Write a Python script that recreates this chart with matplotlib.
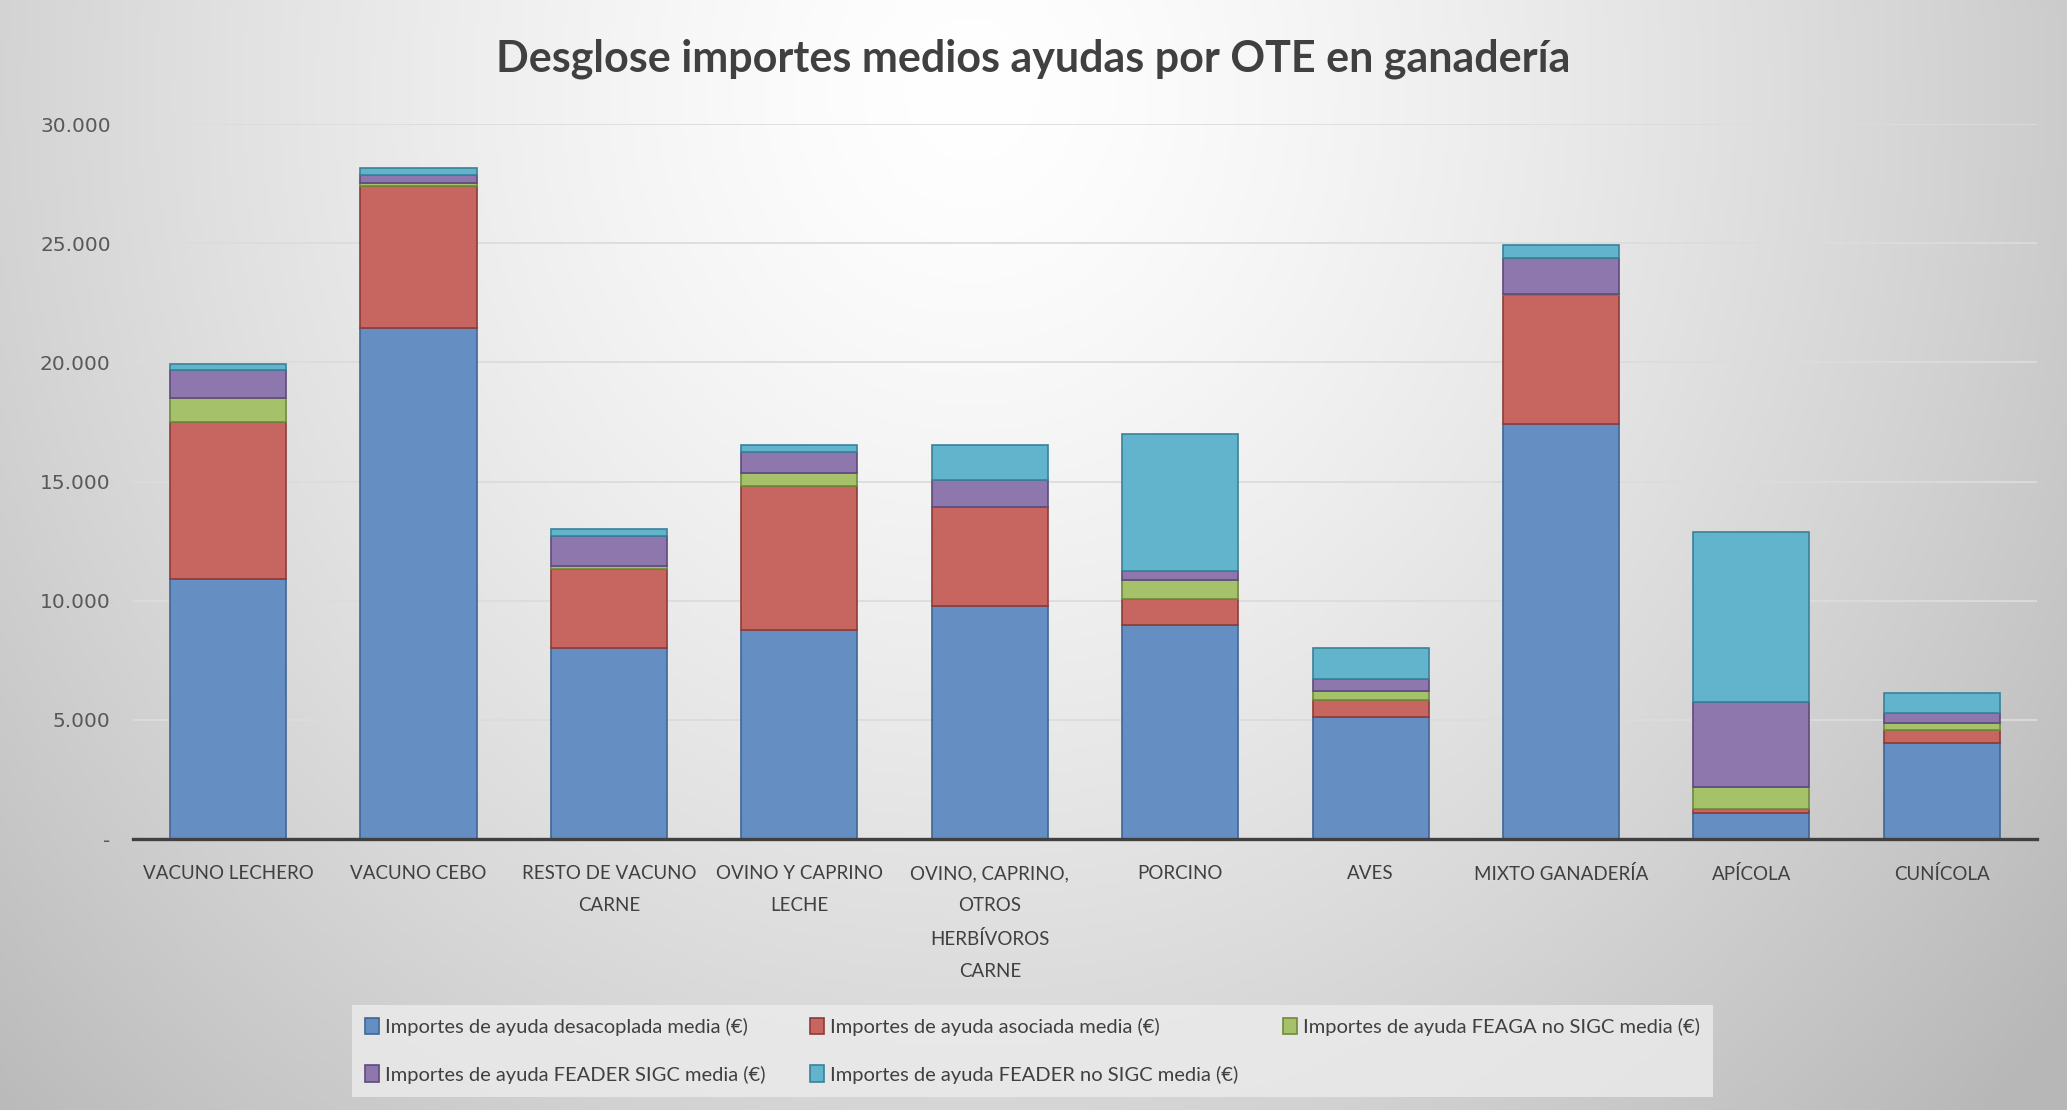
import numpy as np
import matplotlib
matplotlib.use("Agg")
import matplotlib.pyplot as plt
from matplotlib.ticker import FuncFormatter

plt.rcParams['font.family'] = ['Lato', 'DejaVu Sans']

# categories (OTE)
categorias = ['VACUNO LECHERO', 'VACUNO CEBO', 'RESTO DE VACUNO\nCARNE', 'OVINO Y CAPRINO\nLECHE',
              'OVINO, CAPRINO,\nOTROS\nHERBÍVOROS\nCARNE', 'PORCINO', 'AVES', 'MIXTO GANADERÍA',
              'APÍCOLA', 'CUNÍCOLA']

# mean amounts per series (EUR)
desacoplada = [10900, 21450, 8020, 8770, 9790, 8970, 5140, 17410, 1080, 4030]
asociada = [6600, 5970, 3310, 6060, 4130, 1120, 680, 5400, 160, 540]
feaga_no_sigc = [1000, 100, 140, 540, 30, 760, 380, 60, 960, 280]
feader_sigc = [1200, 360, 1240, 880, 1100, 380, 500, 1500, 3550, 460]
feader_no_sigc = [250, 260, 300, 300, 1500, 5760, 1320, 540, 7120, 800]

series_nombres = ['Importes de ayuda desacoplada media (€)',
                  'Importes de ayuda asociada media (€)',
                  'Importes de ayuda FEAGA no SIGC media (€)',
                  'Importes de ayuda FEADER SIGC media (€)',
                  'Importes de ayuda FEADER no SIGC media (€)']
series_valores = [desacoplada, asociada, feaga_no_sigc, feader_sigc, feader_no_sigc]
colores = ['#658FC3', '#C76561', '#A5C26B', '#8D77AC', '#62B4CC']
bordes = ['#3E6796', '#8E3C39', '#6F8A3A', '#5E4A7C', '#3A8299']

fig = plt.figure(figsize=(20.67, 11.10), dpi=100)

# gradient background like the office chart style
bg = fig.add_axes([0, 0, 1, 1], zorder=-10)
gx, gy = np.meshgrid(np.linspace(0, 1, 400), np.linspace(0, 1, 220))
d = np.sqrt(((gx - 0.47) / 0.62) ** 2 + ((gy - 0.08) / 1.25) ** 2)
g = 1.0 - 0.25 * np.clip(d, 0, 1.2) ** 1.4
g = np.clip(g, 0.72, 1.0)
bg.imshow(np.dstack([g, g, g]), extent=[0, 1, 0, 1], origin='upper', aspect='auto')
bg.set_axis_off()

ax = fig.add_axes([0.0643, 0.2441, 0.9212, 0.6441])
ax.patch.set_alpha(0)

x = np.arange(len(categorias))
base = np.zeros(len(categorias))
handles = []
for nombre, vals, c, e in zip(series_nombres, series_valores, colores, bordes):
    b = ax.bar(x, vals, 0.61, bottom=base, color=c, edgecolor=e, linewidth=1.2,
               label=nombre, zorder=3)
    handles.append(b)
    base = base + np.array(vals)

ax.set_xlim(-0.5, len(categorias) - 0.5)
ax.set_ylim(0, 30000)
ax.set_yticks(np.arange(0, 30001, 5000))
ax.yaxis.set_major_formatter(FuncFormatter(lambda v, p: '-' if v == 0 else f'{int(v):,}'.replace(',', '.')))
ax.grid(axis='y', color='#dcdcdc', linewidth=1.3, zorder=0)
ax.set_axisbelow(True)

for s in ['top', 'right', 'left']:
    ax.spines[s].set_visible(False)
ax.spines['bottom'].set_color('#404040')
ax.spines['bottom'].set_linewidth(2.4)
ax.spines['bottom'].set_zorder(5)

ax.set_xticks(x)
ax.set_xticklabels(categorias, fontsize=13.5, color='#404040', linespacing=2.05, va='top')
ax.tick_params(axis='x', length=0, pad=19)
ax.tick_params(axis='y', length=0, pad=16, labelsize=14.5, labelcolor='#595959')
for t in ax.get_yticklabels():
    t.set_fontfamily('DejaVu Sans')

fig.text(0.5, 0.947, 'Desglose importes medios ayudas por OTE en ganadería', ha='center', va='center',
         fontsize=31, fontweight='bold', color='#404040')

# reorder so the legend reads row by row
orden = [0, 3, 1, 4, 2]
leg = fig.legend([handles[i] for i in orden], [series_nombres[i] for i in orden],
                 loc='center', bbox_to_anchor=(0.4995, 0.0535), ncol=3, frameon=True,
                 fontsize=14.5, handlelength=0.7, handleheight=0.9, handletextpad=0.3,
                 columnspacing=2.2, labelspacing=1.45, borderpad=0.65)
leg.get_frame().set_facecolor('#ececec')
leg.get_frame().set_alpha(0.8)
leg.get_frame().set_edgecolor('none')
leg.get_frame().set_boxstyle('square', pad=0)
for t in leg.get_texts():
    t.set_color('#404040')

fig.savefig('out.png', dpi=100)
